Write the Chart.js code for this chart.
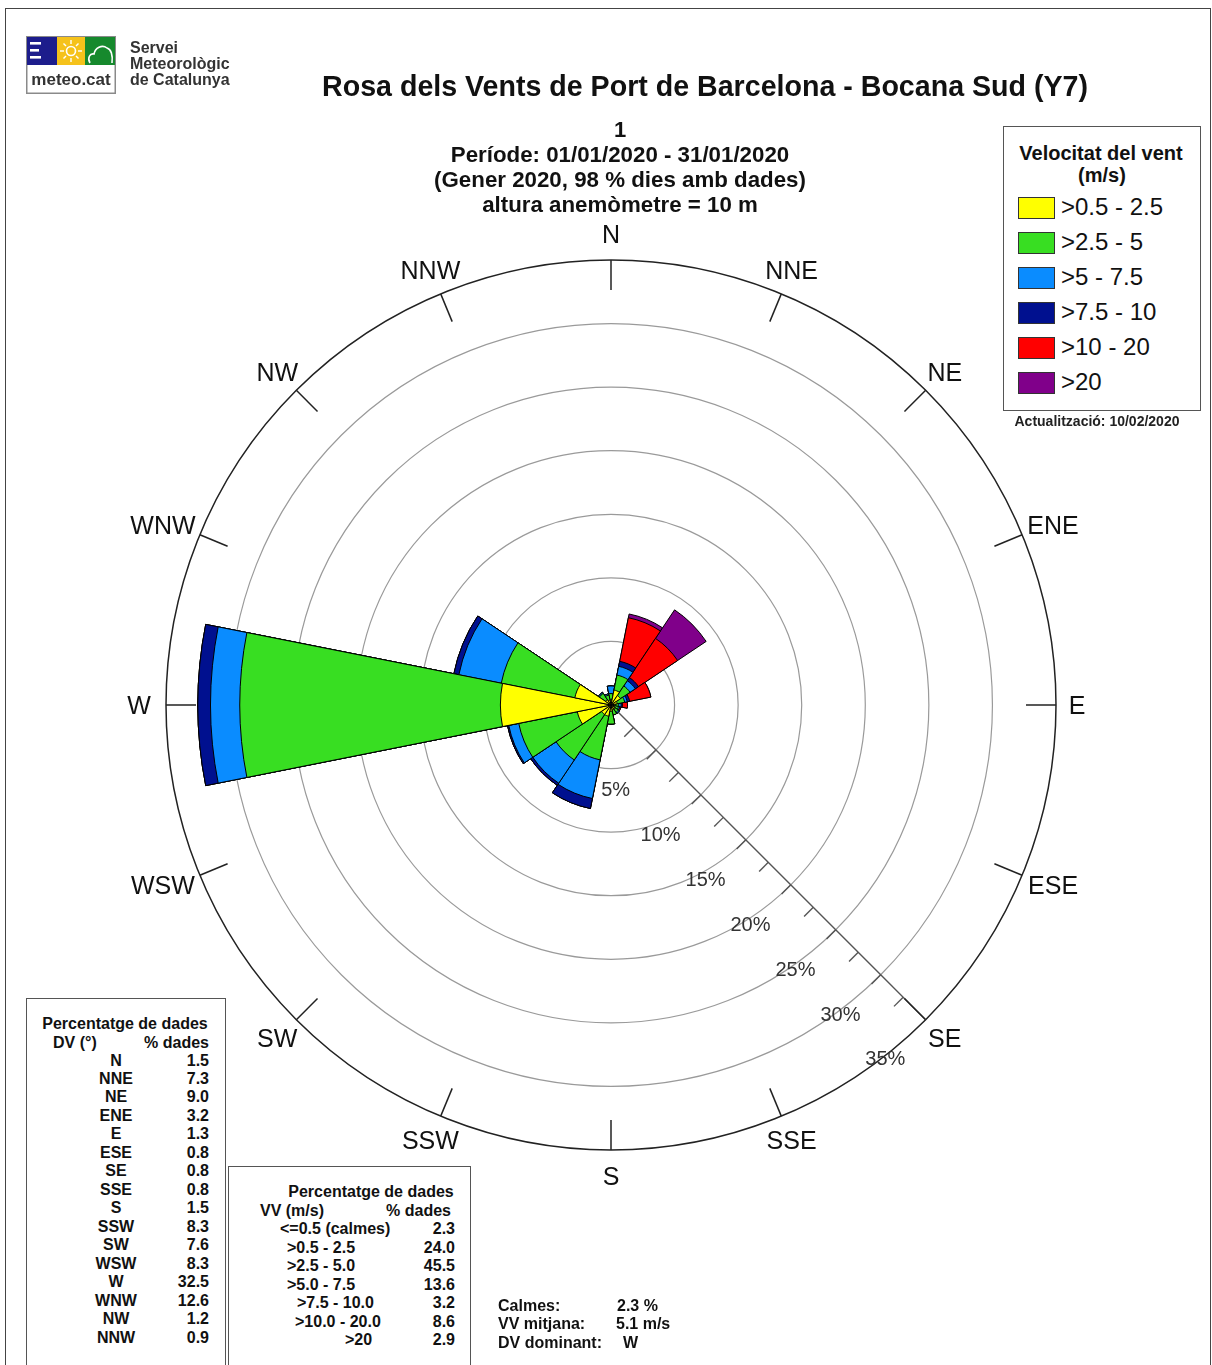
<!DOCTYPE html>
<html lang="ca">
<head>
<meta charset="utf-8">
<title>Rosa dels Vents de Port de Barcelona - Bocana Sud (Y7)</title>
<script src="https://cdn.jsdelivr.net/npm/chart.js@4.4.1/dist/chart.umd.min.js"></script>
<style>
  html, body { margin: 0; padding: 0; background: #fff; }
  body { width: 1212px; height: 1365px; position: relative; overflow: hidden;
         font-family: "Liberation Sans", Arial, Helvetica, sans-serif; color: #111; }
  #rose { position: absolute; left: 0; top: 0; }
  .t { position: absolute; white-space: nowrap; }
  .box { position: absolute; border: 1.5px solid #555; background: #fff; box-sizing: border-box; }
  .frame { position: absolute; left: 5px; top: 8px; width: 1206px; height: 1380px;
           border: 1.5px solid #444; box-sizing: border-box; }
</style>
</head>
<body>
<div class="frame"></div>
<canvas id="rose" width="1212" height="1365"></canvas>

<!-- logo -->
<svg width="90" height="58" style="position:absolute;left:26px;top:36px" xmlns="http://www.w3.org/2000/svg">
  <rect x="0.75" y="0.75" width="88.5" height="56.5" fill="#fff" stroke="#8a8a8a" stroke-width="1.5"/>
  <rect x="1" y="1" width="30" height="28" fill="#1d1d8c"/>
  <rect x="31" y="1" width="28" height="28" fill="#f5c21b"/>
  <rect x="59" y="1" width="30" height="28" fill="#16892d"/>
  <rect x="4" y="6" width="11" height="2.6" fill="#fff"/>
  <rect x="4" y="13" width="9" height="2.6" fill="#fff"/>
  <rect x="4" y="20" width="11" height="2.6" fill="#fff"/>
  <circle cx="45" cy="15" r="4.5" fill="none" stroke="#fff" stroke-width="1.6"/>
  <g stroke="#fff" stroke-width="1.4">
    <line x1="45" y1="4" x2="45" y2="8"/><line x1="45" y1="22" x2="45" y2="26"/>
    <line x1="34" y1="15" x2="38" y2="15"/><line x1="52" y1="15" x2="56" y2="15"/>
    <line x1="37.5" y1="7.5" x2="40" y2="10"/><line x1="50" y1="20" x2="52.5" y2="22.5"/>
    <line x1="52.5" y1="7.5" x2="50" y2="10"/><line x1="40" y1="20" x2="37.5" y2="22.5"/>
  </g>
  <path d="M64 27 C61 22 64 17 68 18 C69 12 76 8 81 12 C85 13 87 19 86 27" fill="none" stroke="#fff" stroke-width="1.6"/>
</svg>

<div id="overlay"></div>

<script>
// ---- compass sectors ----
const directions = ['N', 'NNE', 'NE', 'ENE', 'E', 'ESE', 'SE', 'SSE',
                    'S', 'SSW', 'SW', 'WSW', 'W', 'WNW', 'NW', 'NNW'];

// ---- wind-speed classes (m/s) ----
const speedClasses = ['>0.5 - 2.5', '>2.5 - 5', '>5 - 7.5', '>7.5 - 10', '>10 - 20', '>20'];

// % of records per sector and speed class
const speed05to25  = [0.4, 1.2, 0.9, 0.5, 0.3, 0.3, 0.4, 0.4, 0.5, 0.9, 0.9, 2.7,  8.7, 2.9, 0.5, 0.4];
const speed25to5   = [0.5, 1.2, 0.9, 0.6, 0.3, 0.3, 0.3, 0.4, 1.0, 3.5, 4.3, 4.7, 20.5, 5.9, 0.6, 0.4];
const speed5to75   = [0.6, 0.7, 0.5, 0.2, 0.2, 0.1, 0.1, 0.0, 0.0, 3.1, 2.2, 0.8,  2.3, 3.4, 0.1, 0.1];
const speed75to10  = [0.0, 0.4, 0.3, 0.2, 0.1, 0.0, 0.0, 0.0, 0.0, 0.8, 0.2, 0.1,  1.0, 0.4, 0.0, 0.0];
const speed10to20  = [0.0, 3.5, 3.7, 1.7, 0.4, 0.1, 0.0, 0.0, 0.0, 0.0, 0.0, 0.0,  0.0, 0.0, 0.0, 0.0];
const speedOver20  = [0.0, 0.3, 2.7, 0.0, 0.0, 0.0, 0.0, 0.0, 0.0, 0.0, 0.0, 0.0,  0.0, 0.0, 0.0, 0.0];

// summary tables
const directionTotals = [1.5, 7.3, 9.0, 3.2, 1.3, 0.8, 0.8, 0.8, 1.5, 8.3, 7.6, 8.3, 32.5, 12.6, 1.2, 0.9];
const speedTableLabels = ['<=0.5 (calmes)', '>0.5 - 2.5', '>2.5 - 5.0', '>5.0 - 7.5', '>7.5 - 10.0', '>10.0 - 20.0', '>20'];
const speedTotals = [2.3, 24.0, 45.5, 13.6, 3.2, 8.6, 2.9];
const calmPct = 2.3;
const meanSpeed = 5.1;
const dominantDir = 'W';

// radial axis (%)
const radialMax = 35;
const radialStep = 5;

// ---- styling ----
const classColors = ['#ffff00', '#38de22', '#0a8cff', '#00108f', '#ff0000', '#80008a'];
const FONT = '"Liberation Sans", Arial, Helvetica, sans-serif';
// small horizontal nudges for the wider compass names
const nameNudge = { WNW: -12, WSW: -12, ENE: 6, ESE: 6, E: -6 };

// stacked rings: each dataset reaches the cumulative total of its class and the lower ones
const speedSeries = [speed05to25, speed25to5, speed5to75, speed75to10, speed10to20, speedOver20];
const cumulative = speedSeries.map((_, k) =>
  directions.map((_, i) => {
    let s = 0;
    for (let j = 0; j <= k; j++) s += speedSeries[j][i];
    return Math.round(s * 100) / 100;
  })
);

const datasets = speedClasses.map((label, k) => ({
  label,
  data: cumulative[k],
  backgroundColor: classColors[k],
  borderColor: '#000',
  borderWidth: 1
}));

// angle (canvas radians) at the middle of sector i
function sectorAngle(scale, i) {
  const sector = 2 * Math.PI / directions.length;
  return scale.getIndexAngle(i) + sector / 2 - Math.PI / 2;
}

// compass dressing: SE axis with % labels, compass ticks and names
const roseFrame = {
  id: 'roseFrame',
  beforeDatasetsDraw(chart) {
    const c = chart.ctx, r = chart.scales.r;
    const a = sectorAngle(r, directions.indexOf('SE'));
    const ux = Math.cos(a), uy = Math.sin(a);
    const px = -uy, py = ux;               // perpendicular, toward SW
    const R = r.getDistanceFromCenterForValue(r.max);
    c.save();
    c.strokeStyle = '#555';
    c.lineWidth = 1.4;
    c.beginPath();
    c.moveTo(r.xCenter, r.yCenter);
    c.lineTo(r.xCenter + ux * R, r.yCenter + uy * R);
    c.stroke();
    for (let v = radialStep / 2; v < r.max; v += radialStep / 2) {
      const d = r.getDistanceFromCenterForValue(v);
      const x = r.xCenter + ux * d, y = r.yCenter + uy * d;
      c.beginPath();
      c.moveTo(x, y);
      c.lineTo(x + px * 13, y + py * 13);
      c.stroke();
    }
    c.restore();
  },
  afterDatasetsDraw(chart) {
    const c = chart.ctx, r = chart.scales.r;
    const R = r.getDistanceFromCenterForValue(r.max);
    c.save();
    // compass ticks + names
    c.strokeStyle = '#222';
    c.lineWidth = 1.5;
    c.fillStyle = '#111';
    c.font = '25px ' + FONT;
    c.textAlign = 'center';
    c.textBaseline = 'middle';
    directions.forEach((name, i) => {
      const a = sectorAngle(r, i);
      const ux = Math.cos(a), uy = Math.sin(a);
      c.beginPath();
      c.moveTo(r.xCenter + ux * (R - 30), r.yCenter + uy * (R - 30));
      c.lineTo(r.xCenter + ux * R, r.yCenter + uy * R);
      c.stroke();
      c.fillText(name, r.xCenter + ux * (R + 27) + (nameNudge[name] || 0), r.yCenter + uy * (R + 26) + 2);
    });
    // % labels beside the SE axis
    const a = sectorAngle(r, directions.indexOf('SE'));
    const ux = Math.cos(a), uy = Math.sin(a);
    const px = -uy, py = ux;
    c.fillStyle = '#333';
    c.font = '20px ' + FONT;
    r.ticks.forEach(t => {
      if (t.value <= r.min) return;
      const d = r.getDistanceFromCenterForValue(t.value);
      c.fillText(t.value + '%', r.xCenter + ux * d + px * 57, r.yCenter + uy * d + py * 57);
    });
    c.restore();
  }
};

new Chart(document.getElementById('rose'), {
  type: 'polarArea',
  data: { labels: directions, datasets },
  options: {
    responsive: false,
    devicePixelRatio: 1,
    animation: false,
    layout: { padding: { left: 166, top: 260, right: 156, bottom: 215 } },
    plugins: {
      legend: { display: false },
      tooltip: { enabled: false },
      title: { display: false }
    },
    scales: {
      r: {
        min: 0,
        max: radialMax,
        startAngle: -180 / directions.length,
        ticks: { display: false, stepSize: radialStep },
        grid: {
          circular: true,
          color: ctx => (ctx.tick && ctx.tick.value === radialMax) ? '#222' : '#9a9a9a',
          lineWidth: ctx => (ctx.tick && ctx.tick.value === radialMax) ? 1.5 : 1.2
        },
        angleLines: { display: false },
        pointLabels: { display: false }
      }
    }
  },
  plugins: [roseFrame]
});

// ---- text blocks ----
const overlay = document.getElementById('overlay');
function put(text, x, y, opt = {}) {
  const size = opt.size || 16;
  const el = document.createElement('div');
  el.className = 't';
  el.textContent = text;
  el.style.font = `${opt.weight || 'bold'} ${size}px ${FONT}`;
  el.style.lineHeight = (size * 2) + 'px';
  el.style.left = x + 'px';
  el.style.top = (y - size) + 'px';
  el.style.color = opt.color || '#111';
  if (opt.align === 'center') el.style.transform = 'translateX(-50%)';
  if (opt.align === 'right') el.style.transform = 'translateX(-100%)';
  overlay.appendChild(el);
  return el;
}
function box(x, y, w, h) {
  const el = document.createElement('div');
  el.className = 'box';
  Object.assign(el.style, { left: x + 'px', top: y + 'px', width: w + 'px', height: h + 'px' });
  overlay.appendChild(el);
}

// logo text
put('meteo.cat', 71, 80, { size: 17, align: 'center', color: '#333' });
put('Servei', 130, 48, { size: 16, color: '#333' });
put('Meteorològic', 130, 64, { size: 16, color: '#333' });
put('de Catalunya', 130, 80, { size: 16, color: '#333' });

// titles
put('Rosa dels Vents de Port de Barcelona - Bocana Sud (Y7)', 705, 87, { size: 28.6, align: 'center' });
put('1', 620, 130, { size: 22, align: 'center' });
put('Període: 01/01/2020 - 31/01/2020', 620, 155, { size: 22.3, align: 'center' });
put('(Gener 2020, 98 % dies amb dades)', 620, 180, { size: 22.3, align: 'center' });
put('altura anemòmetre = 10 m', 620, 205, { size: 22.3, align: 'center' });

// speed legend
box(1003, 126, 198, 285);
put('Velocitat del vent', 1101, 153, { size: 20, align: 'center' });
put('(m/s)', 1102, 175, { size: 20, align: 'center' });
speedClasses.forEach((label, k) => {
  const top = 197 + k * 35;
  const sw = document.createElement('div');
  Object.assign(sw.style, {
    position: 'absolute', left: '1018px', top: top + 'px', width: '37px', height: '22px',
    background: classColors[k], border: '1.5px solid #333', boxSizing: 'border-box'
  });
  overlay.appendChild(sw);
  put(label, 1061, top + 10, { size: 24, weight: 'normal' });
});
put('Actualització: 10/02/2020', 1097, 421, { size: 14, align: 'center', color: '#222' });

// direction table
box(26, 998, 200, 380);
put('Percentatge de dades', 125, 1024, { size: 16, align: 'center' });
put('DV (°)', 53, 1043, { size: 16 });
put('% dades', 209, 1043, { size: 16, align: 'right' });
directions.forEach((d, i) => {
  const y = 1060.5 + i * 18.47;
  put(d, 116, y, { size: 16, align: 'center' });
  put(directionTotals[i].toFixed(1), 209, y, { size: 16, align: 'right' });
});

// speed table
box(228, 1166, 243, 210);
put('Percentatge de dades', 371, 1192, { size: 16, align: 'center' });
put('VV (m/s)', 260, 1211, { size: 16 });
put('% dades', 451, 1211, { size: 16, align: 'right' });
const speedLabelX = [280, 287, 287, 287, 297, 295, 345];
speedTableLabels.forEach((lab, i) => {
  const y = 1229 + i * 18.5;
  put(lab, speedLabelX[i], y, { size: 16 });
  put(speedTotals[i].toFixed(1), 455, y, { size: 16, align: 'right' });
});

// summary
put('Calmes:', 498, 1306, { size: 16 });
put(calmPct.toFixed(1) + ' %', 617, 1306, { size: 16 });
put('VV mitjana:', 498, 1324, { size: 16 });
put(meanSpeed.toFixed(1) + ' m/s', 616, 1324, { size: 16 });
put('DV dominant:', 498, 1343, { size: 16 });
put(dominantDir, 623, 1343, { size: 16 });
</script>
</body>
</html>
